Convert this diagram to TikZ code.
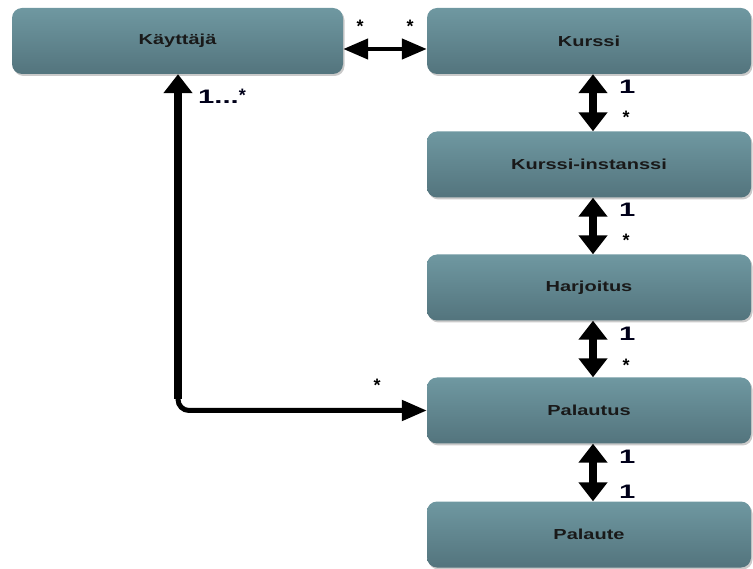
\documentclass[tikz,border=0pt]{standalone}
\usepackage{fontspec}
\setmainfont{Liberation Sans}
\newfontfamily\boxfont{Liberation Sans}[FakeStretch=1.38]
\newfontfamily\multfont{Liberation Sans}[FakeStretch=1.5]
\usetikzlibrary{arrows.meta,shadows}
\definecolor{boxtop}{HTML}{6F98A1}
\definecolor{boxbot}{HTML}{53747D}
\tikzset{
  entity/.style={rounded corners=10pt, top color=boxtop, bottom color=boxbot,
    draw=none, minimum width=324pt, minimum height=66pt, inner sep=0pt,
    font=\boxfont\bfseries\fontsize{14.5}{16}\selectfont, text=black!90,
    drop shadow={shadow xshift=1.5pt, shadow yshift=-2pt, opacity=0.35, fill=black!60}},
  entityL/.style={entity, minimum width=331pt},
  vtip/.tip={Triangle[width=28pt,length=19pt]},
  htip/.tip={Triangle[width=20pt,length=25pt]},
  vassoc/.style={line width=7.5pt, vtip-vtip},
  hassoc/.style={line width=4.5pt, htip-htip},
  mult/.style={font=\multfont\bfseries\fontsize{19.5}{20}\selectfont, text=black!90!blue,
    inner sep=0pt, anchor=base west},
  star/.style={font=\bfseries\fontsize{18}{18}\selectfont, inner sep=0pt, anchor=north}
}
\newcommand{\smallstar}{{\normalfont\bfseries\fontsize{18}{18}\selectfont *}}
\begin{document}
\begin{tikzpicture}[x=1pt,y=-1pt]
  \useasboundingbox (0,0) rectangle (753,569);
  % entities
  \node[entityL] (kay)  at (177.5,41)  {Käyttäjä};
  \node[entity]  (kur)  at (589,41)    {Kurssi};
  \node[entity]  (inst) at (589,164.5) {Kurssi-instanssi};
  \node[entity]  (har)  at (589,287.5) {Harjoitus};
  \node[entity]  (pal)  at (589,410.5) {Palautus};
  \node[entity]  (pae)  at (589,534.5) {Palaute};
  % associations
  \draw[hassoc] ([yshift=-8pt]kay.east) -- ([yshift=-8pt]kur.west);
  \draw[vassoc] ([xshift=4pt]kur.south)  -- ([xshift=4pt]inst.north);
  \draw[vassoc] ([xshift=4pt]inst.south) -- ([xshift=4pt]har.north);
  \draw[vassoc] ([xshift=4pt]har.south)  -- ([xshift=4pt]pal.north);
  \draw[vassoc] ([xshift=4pt]pal.south)  -- ([xshift=4pt]pae.north);
  % Käyttäjä -- Palautus, routed round the left side
  \coordinate (elbow) at (178,410.5);
  \coordinate (vtop) at (kay.south -| elbow);
  \draw[line width=5pt, rounded corners=11pt, vtip-htip] (vtop) -- (elbow) -- (pal.west);
  \draw[line width=7.5pt] ([yshift=-18pt]vtop) -- (178,399.5);
  % multiplicities
  \node[star] (m1) at (360,20) {*};
  \node[star] (m2) at (410,20) {*};
  \node[mult] (m3) at (198,104) {1...\raisebox{2pt}{\smallstar}};
  \node[star] (m4) at (377,379) {*};
  \node[mult] (k1) at (619,94)  {1};
  \node[star] (k2) at (626,110.5) {*};
  \node[mult] (i1) at (619,217) {1};
  \node[star] (i2) at (626,233.5) {*};
  \node[mult] (h1) at (619,341) {1};
  \node[star] (h2) at (626,358.5) {*};
  \node[mult] (p1) at (619,464) {1};
  \node[mult] (p2) at (619,498) {1};
\end{tikzpicture}
\end{document}
